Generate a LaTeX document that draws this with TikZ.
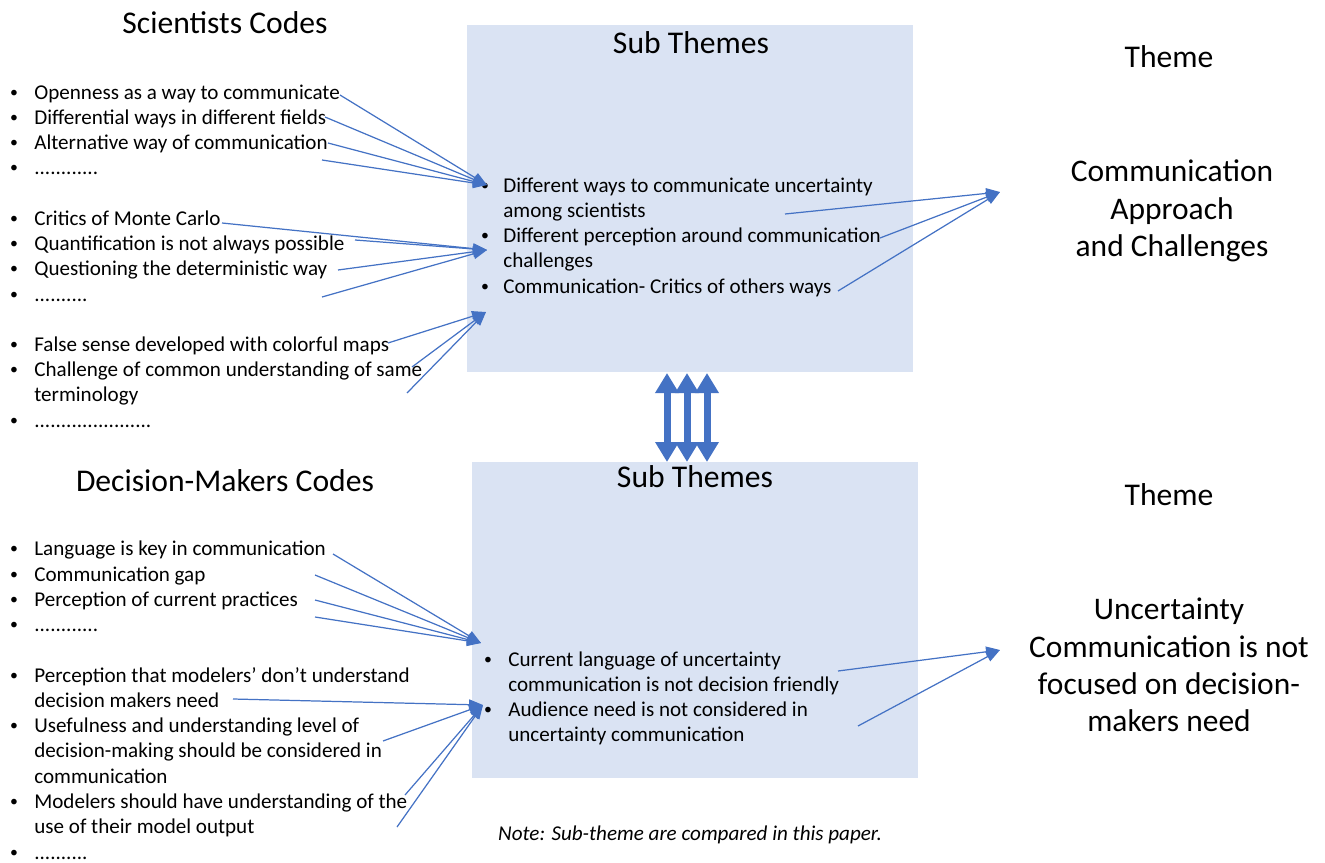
\documentclass[tikz,border=0pt]{standalone}
\usepackage{fontspec}
\setmainfont{Carlito}
\usetikzlibrary{arrows.meta}
\definecolor{linkblue}{HTML}{4472C4}
\definecolor{boxfill}{HTML}{DAE3F3}
\newcommand\codesize{\fontsize{12}{14}\selectfont}

\begin{document}
\begin{tikzpicture}[x=0.02cm,y=-0.02cm,
  item/.style={anchor=base west, inner sep=0pt, font=\codesize},
  bul/.style={anchor=center, inner sep=0pt, font=\fontsize{9}{10}\selectfont, yshift=0.1cm},
  heading/.style={inner sep=0pt, font=\fontsize{18}{21}\selectfont},
  theme/.style={inner sep=0pt, align=center, font=\fontsize{17.9}{21.3}\selectfont},
  subbox/.style={fill=boxfill, draw=none},
  link/.style={draw=linkblue, line width=0.7pt, -{Triangle[length=0.28cm,width=0.21cm]}},
  pair/.style={draw=linkblue, line width=0.14cm,
    {Triangle[length=0.4cm,width=0.45cm]}-{Triangle[length=0.4cm,width=0.45cm]}}
]
\useasboundingbox (0,0) rectangle (1325,862);

% sub-theme panels
\node[subbox, minimum width=446*0.02cm, minimum height=347*0.02cm, anchor=north west, inner sep=0pt] (boxtop) at (467,25) {};
\node[subbox, minimum width=446*0.02cm, minimum height=316*0.02cm, anchor=north west, inner sep=0pt] (boxbot) at (472,462) {};

% headings
\node[heading] (hsci) at (225,23) {Scientists Codes};
\node[heading] (hdm) at (225,481) {Decision-Makers Codes};
\node[heading] (hsub1) at (691,43) {Sub Themes};
\node[heading] (hsub2) at (695,477) {Sub Themes};
\node[heading] (hth1) at (1169,57) {Theme};
\node[heading] (hth2) at (1169,495) {Theme};

% themes
\node[theme] (theme1) at (1172,211) {Communication\\Approach\\and Challenges};
\node[theme] (theme2) at (1169,665) {Uncertainty\\Communication is not\\focused on decision-\\makers need};

% scientists codes
\node[bul] (sb1) at (14,99) {\textbullet};
\node[item] (sc1) at (34,99) {Openness as a way to communicate};
\node[bul] (sb2) at (14,124) {\textbullet};
\node[item] (sc2) at (34,124) {Differential ways in different fields};
\node[bul] (sb3) at (14,149) {\textbullet};
\node[item] (sc3) at (34,149) {Alternative way of communication};
\node[bul] (sb4) at (14,174) {\textbullet};
\node[item] (sc4) at (34,174) {............};
\node[bul] (sb5) at (14,225) {\textbullet};
\node[item] (sc5) at (34,225) {Critics of Monte Carlo};
\node[bul] (sb6) at (14,250) {\textbullet};
\node[item] (sc6) at (34,250) {Quantification is not always possible};
\node[bul] (sb7) at (14,275) {\textbullet};
\node[item] (sc7) at (34,275) {Questioning the deterministic way};
\node[bul] (sb8) at (14,301) {\textbullet};
\node[item] (sc8) at (34,301) {..........};
\node[bul] (sb9) at (14,351) {\textbullet};
\node[item] (sc9) at (34,351) {False sense developed with colorful maps};
\node[bul] (sb10) at (14,376) {\textbullet};
\node[item] (sc10) at (34,376) {Challenge of common understanding of same};
\node[item] (sc10b) at (34,401) {terminology};
\node[bul] (sb11) at (14,427) {\textbullet};
\node[item] (sc11) at (34,427) {......................};

% decision-makers codes
\node[bul] (db1) at (14,555) {\textbullet};
\node[item] (dc1) at (34,555) {Language is key in communication};
\node[bul] (db2) at (14,581) {\textbullet};
\node[item] (dc2) at (34,581) {Communication gap};
\node[bul] (db3) at (14,606) {\textbullet};
\node[item] (dc3) at (34,606) {Perception of current practices};
\node[bul] (db4) at (14,631) {\textbullet};
\node[item] (dc4) at (34,631) {............};
\node[bul] (db5) at (14,682) {\textbullet};
\node[item] (dc5) at (34,682) {Perception that modelers’ don’t understand};
\node[item] (dc5b) at (34,707) {decision makers need};
\node[bul] (db6) at (14,732) {\textbullet};
\node[item] (dc6) at (34,732) {Usefulness and understanding level of};
\node[item] (dc6b) at (34,757) {decision-making should be considered in};
\node[item] (dc6c) at (34,783) {communication};
\node[bul] (db7) at (14,808) {\textbullet};
\node[item] (dc7) at (34,808) {Modelers should have understanding of the};
\node[item] (dc7b) at (34,833) {use of their model output};
\node[bul] (db8) at (14,859) {\textbullet};
\node[item] (dc8) at (34,859) {..........};

% sub themes (scientists)
\node[bul] (tb1) at (485,192) {\textbullet};
\node[item] (ts1) at (503,192) {Different ways to communicate uncertainty};
\node[item] (ts1b) at (503,217) {among scientists};
\node[bul] (tb2) at (485,242) {\textbullet};
\node[item] (ts2) at (503,242) {Different perception around communication};
\node[item] (ts2b) at (503,267) {challenges};
\node[bul] (tb3) at (485,293) {\textbullet};
\node[item] (ts3) at (503,293) {Communication- Critics of others ways};

% sub themes (decision-makers)
\node[bul] (ub1) at (488,666) {\textbullet};
\node[item] (us1) at (508,666) {Current language of uncertainty};
\node[item] (us1b) at (508,691) {communication is not decision friendly};
\node[bul] (ub2) at (488,716) {\textbullet};
\node[item] (us2) at (508,716) {Audience need is not considered in};
\node[item] (us2b) at (508,741) {uncertainty communication};

% note
\node[inner sep=0pt, font=\codesize\itshape] (note) at (690,835) {Note: Sub-theme are compared in this paper.};

% connector end points
\coordinate (tipA) at (487,185);
\coordinate (tipB) at (487,250);
\coordinate (tipC) at (486,312);
\coordinate (tipD) at (481,643);
\coordinate (tipE) at (483,705);
\coordinate (tipR1) at (1000,192);
\coordinate (tipR2) at (1000,650);

\coordinate (a1) at (340,95);
\coordinate (a2) at (325,117);
\coordinate (a3) at (328,143);
\coordinate (a4) at (322,160);
\coordinate (b1) at (222,223);
\coordinate (b2) at (355,240);
\coordinate (b3) at (338,270);
\coordinate (b4) at (322,297);
\coordinate (c1) at (388,343);
\coordinate (c2) at (412,367);
\coordinate (c3) at (407,393);
\coordinate (d1) at (333,554);
\coordinate (d2) at (315,575);
\coordinate (d3) at (315,600);
\coordinate (d4) at (315,617);
\coordinate (e1) at (233,699);
\coordinate (e2) at (383,741);
\coordinate (e3) at (405,795);
\coordinate (e4) at (397,827);
\coordinate (r1) at (785,214);
\coordinate (r2) at (880,238);
\coordinate (r3) at (838,291);
\coordinate (r4) at (838,671);
\coordinate (r5) at (858,726);

% codes to sub themes
\foreach \s in {a1,a2,a3,a4} \draw[link] (\s) -- (tipA);
\foreach \s in {b1,b2,b3,b4} \draw[link] (\s) -- (tipB);
\foreach \s in {c1,c2,c3} \draw[link] (\s) -- (tipC);
\foreach \s in {d1,d2,d3,d4} \draw[link] (\s) -- (tipD);
\foreach \s in {e1,e2,e3,e4} \draw[link] (\s) -- (tipE);

% sub themes to themes
\foreach \s in {r1,r2,r3} \draw[link] (\s) -- (tipR1);
\foreach \s in {r4,r5} \draw[link] (\s) -- (tipR2);

% comparison between the two sub-theme panels
\foreach \x [count=\i] in {667,687,707} {
  \coordinate (up\i) at (\x,373);
  \coordinate (dn\i) at (\x,462);
  \draw[pair] (dn\i) -- (up\i);
}
\end{tikzpicture}
\end{document}
